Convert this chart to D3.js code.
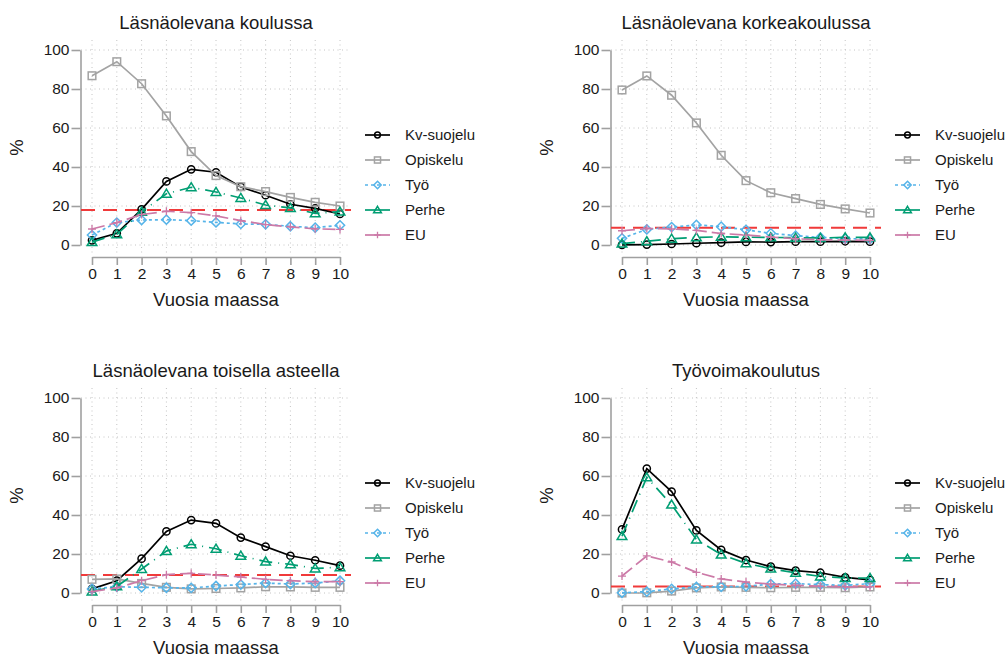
<!DOCTYPE html>
<html>
<head>
<meta charset="utf-8">
<script src="https://cdn.jsdelivr.net/npm/d3@7"></script>
<style>
  html, body { margin: 0; padding: 0; background: #fff; }
  svg { display: block; font-family: "Liberation Sans", Arial, sans-serif; }
</style>
</head>
<body>
<svg id="chart" width="1005" height="655"></svg>
<script>
// ---- data ----
const years = [0, 1, 2, 3, 4, 5, 6, 7, 8, 9, 10];
const yTicks = [0, 20, 40, 60, 80, 100];
const seriesNames = ["Kv-suojelu", "Opiskelu", "Työ", "Perhe", "EU"];
const panelTitles = ["Läsnäolevana koulussa", "Läsnäolevana korkeakoulussa", "Läsnäolevana toisella asteella", "Työvoimakoulutus"];
const referenceLevels = [18.0, 8.8, 9.2, 3.3];

const koulu_kv    = [2.4, 6.0, 18.3, 32.6, 38.8, 37.3, 29.8, 25.5, 20.9, 18.8, 15.9];
const koulu_op    = [86.8, 94.0, 82.7, 66.2, 47.9, 35.6, 29.9, 27.4, 24.4, 21.9, 20.0];
const koulu_tyo   = [5.1, 11.5, 12.8, 13.0, 12.5, 11.6, 10.8, 10.6, 9.6, 8.9, 10.1];
const koulu_perhe = [1.5, 5.5, 17.0, 26.3, 29.6, 27.2, 24.1, 20.5, 19.0, 16.2, 17.1];
const koulu_eu    = [8.2, 11.5, 15.6, 17.3, 16.6, 14.9, 12.5, 10.5, 9.3, 8.3, 8.0];

const korkea_kv    = [0.1, 0.2, 0.5, 0.9, 1.2, 1.6, 1.5, 1.7, 1.7, 1.9, 1.7];
const korkea_op    = [79.5, 86.7, 76.8, 62.6, 46.0, 33.0, 26.8, 23.8, 20.8, 18.5, 16.4];
const korkea_tyo   = [3.4, 8.0, 9.2, 10.3, 9.4, 7.8, 6.0, 4.8, 3.9, 3.3, 3.0];
const korkea_perhe = [0.7, 1.9, 3.2, 3.9, 4.2, 4.0, 3.9, 3.7, 3.6, 3.9, 3.9];
const korkea_eu    = [7.3, 8.5, 8.2, 7.5, 5.9, 5.1, 4.1, 3.2, 2.7, 2.5, 2.4];

const toinen_kv    = [2.1, 6.3, 17.6, 31.6, 37.4, 35.7, 28.4, 23.8, 19.1, 16.8, 14.0];
const toinen_op    = [7.0, 7.2, 4.9, 2.9, 2.1, 2.3, 2.6, 3.2, 3.1, 2.9, 2.9];
const toinen_tyo   = [2.1, 3.2, 2.9, 2.7, 2.6, 3.6, 4.3, 5.1, 4.6, 5.1, 6.3];
const toinen_perhe = [0.8, 3.4, 12.3, 21.5, 25.0, 22.7, 19.1, 16.1, 14.7, 12.6, 13.2];
const toinen_eu    = [0.7, 2.6, 6.3, 9.4, 10.1, 9.2, 8.2, 7.0, 6.3, 5.8, 5.8];

const tyovoima_kv    = [32.6, 63.8, 52.0, 32.1, 22.1, 16.9, 13.5, 11.5, 10.4, 8.0, 6.7];
const tyovoima_op    = [0.0, 0.1, 1.0, 2.6, 3.1, 2.9, 2.7, 2.9, 2.9, 2.7, 3.1];
const tyovoima_tyo   = [0.1, 0.7, 2.1, 3.1, 3.2, 3.4, 4.6, 4.8, 4.3, 3.9, 4.8];
const tyovoima_perhe = [29.2, 59.3, 45.3, 27.4, 19.7, 15.2, 12.5, 10.3, 8.5, 7.7, 7.7];
const tyovoima_eu    = [8.7, 19.0, 15.9, 10.6, 7.2, 5.6, 4.6, 3.9, 3.4, 3.1, 3.2];

const panelData = [
  [koulu_kv, koulu_op, koulu_tyo, koulu_perhe, koulu_eu],
  [korkea_kv, korkea_op, korkea_tyo, korkea_perhe, korkea_eu],
  [toinen_kv, toinen_op, toinen_tyo, toinen_perhe, toinen_eu],
  [tyovoima_kv, tyovoima_op, tyovoima_tyo, tyovoima_perhe, tyovoima_eu]
];

// ---- styles ----
const styles = [
  { color: "#000000", dash: null,        marker: "circle",   width: 1.7 },
  { color: "#a3a3a3", dash: null,        marker: "square",   width: 1.7 },
  { color: "#56b4e9", dash: "3,3",       marker: "diamond",  width: 1.7 },
  { color: "#009e73", dash: "13,6,1,6",  marker: "triangle", width: 1.7 },
  { color: "#cc79a7", dash: "13,5",      marker: "plus",     width: 1.7 }
];
const offsets = [[0, 0], [530, 0], [0, 348], [530, 348]];

const svg = d3.select("#chart");
const font = "'Liberation Sans', Arial, sans-serif";

function drawMarker(g, type, cx, cy, color, scale) {
  const s = scale || 1;
  if (type === "circle") {
    g.append("circle").attr("cx", cx).attr("cy", cy).attr("r", 3.6 * s)
      .attr("fill", "none").attr("stroke", color).attr("stroke-width", 1.5);
  } else if (type === "square") {
    const h = 3.8 * s;
    g.append("rect").attr("x", cx - h).attr("y", cy - h).attr("width", 2 * h).attr("height", 2 * h)
      .attr("fill", "none").attr("stroke", color).attr("stroke-width", 1.5);
  } else if (type === "diamond") {
    const h = 4.6 * s;
    g.append("path").attr("d", `M${cx},${cy - h}L${cx + h},${cy}L${cx},${cy + h}L${cx - h},${cy}Z`)
      .attr("fill", "none").attr("stroke", color).attr("stroke-width", 1.5);
  } else if (type === "triangle") {
    const h = 4.6 * s;
    g.append("path").attr("d", `M${cx},${cy - h}L${cx + h * 1.05},${cy + h * 0.75}L${cx - h * 1.05},${cy + h * 0.75}Z`)
      .attr("fill", "none").attr("stroke", color).attr("stroke-width", 1.5);
  } else if (type === "plus") {
    const h = 4 * s;
    g.append("path").attr("d", `M${cx - h},${cy}L${cx + h},${cy}M${cx},${cy - h}L${cx},${cy + h}`)
      .attr("fill", "none").attr("stroke", color).attr("stroke-width", 1.3);
  }
}

panelData.forEach((series, p) => {
  const [ox, oy] = offsets[p];
  const g = svg.append("g").attr("transform", `translate(${ox},${oy})`);
  const x = d3.scaleLinear().domain([0, 10]).range([92, 340]);
  const y = d3.scaleLinear().domain([0, 100]).range([245, 50]);
  const gridLeft = 81, gridRight = 351, gridTop = 40, gridBottom = 253;

  // grid
  g.append("g").selectAll("line").data(yTicks).join("line")
    .attr("x1", gridLeft).attr("x2", gridRight)
    .attr("y1", d => y(d)).attr("y2", d => y(d))
    .attr("stroke", "#c4c4c4").attr("stroke-width", 1).attr("stroke-dasharray", "1,3.5");
  g.append("g").selectAll("line").data(years).join("line")
    .attr("x1", d => x(d)).attr("x2", d => x(d))
    .attr("y1", gridTop).attr("y2", gridBottom)
    .attr("stroke", "#c4c4c4").attr("stroke-width", 1).attr("stroke-dasharray", "1,3.5");

  // axes
  const yAxis = g.append("g").attr("transform", "translate(80.5,0)")
    .call(d3.axisLeft(y).tickValues(yTicks).tickSize(9).tickSizeOuter(0).tickPadding(2));
  const xAxis = g.append("g").attr("transform", "translate(0,257)")
    .call(d3.axisBottom(x).tickValues(years).tickSize(8).tickSizeOuter(0).tickPadding(3));
  [yAxis, xAxis].forEach(a => {
    a.select(".domain").attr("stroke", "#a0a0a0").attr("stroke-width", 1.6);
    a.selectAll(".tick line").attr("stroke", "#a0a0a0").attr("stroke-width", 1.6);
    a.selectAll(".tick text").attr("fill", "#1a1a1a").style("font-size", "15.5px").style("font-family", font);
  });

  // reference line
  g.append("line")
    .attr("x1", gridLeft).attr("x2", gridRight)
    .attr("y1", y(referenceLevels[p])).attr("y2", y(referenceLevels[p]))
    .attr("stroke", "#f03a3a").attr("stroke-width", 2).attr("stroke-dasharray", "14,8");

  // series
  const line = d3.line().x((d, i) => x(years[i])).y(d => y(d));
  series.forEach((vals, s) => {
    const st = styles[s];
    g.append("path").datum(vals).attr("d", line)
      .attr("fill", "none").attr("stroke", st.color).attr("stroke-width", st.width)
      .attr("stroke-dasharray", st.dash);
    const mg = g.append("g");
    vals.forEach((v, i) => drawMarker(mg, st.marker, x(years[i]), y(v), st.color, 1));
  });

  // titles
  g.append("text").attr("x", 216).attr("y", 28.5).attr("text-anchor", "middle")
    .style("font-size", "18.5px").style("font-family", font).attr("fill", "#1a1a1a")
    .text(panelTitles[p]);
  g.append("text").attr("x", 216).attr("y", 306).attr("text-anchor", "middle")
    .style("font-size", "18.5px").style("font-family", font).attr("fill", "#1a1a1a")
    .text("Vuosia maassa");
  g.append("text").attr("transform", "translate(23,147.5) rotate(-90)").attr("text-anchor", "middle")
    .style("font-size", "18.5px").style("font-family", font).attr("fill", "#1a1a1a")
    .text("%");

  // legend
  const lg = g.append("g");
  seriesNames.forEach((name, s) => {
    const st = styles[s];
    const ly = 135 + 25 * s;
    lg.append("line").attr("x1", 365).attr("x2", 390).attr("y1", ly).attr("y2", ly)
      .attr("stroke", st.color).attr("stroke-width", st.width)
      .attr("stroke-dasharray", s === 2 ? "3,3" : null);
    drawMarker(lg, st.marker, 377.5, ly, st.color, 0.8);
    lg.append("text").attr("x", 405).attr("y", ly + 5.3)
      .style("font-size", "15px").style("font-family", font).attr("fill", "#1a1a1a")
      .text(name);
  });
});
</script>
</body>
</html>
